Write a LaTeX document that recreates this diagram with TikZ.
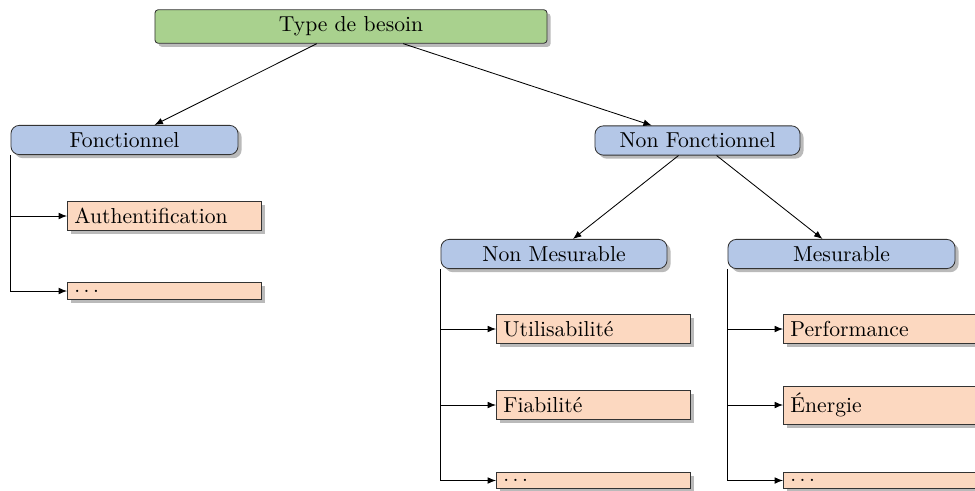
\documentclass[tikz,border=0pt]{standalone}
\usepackage{xcolor}
\usetikzlibrary{shadows,arrows.meta}

\definecolor{racine}{RGB}{169,209,142}
\definecolor{categorie}{RGB}{180,199,231}
\definecolor{feuille}{RGB}{252,216,192}

\tikzset{
  ombre/.style={drop shadow={shadow xshift=1.7pt,shadow yshift=-1.7pt,fill=black!27,opacity=1}},
  racinebox/.style={draw=black!80,fill=racine,rounded corners=1.5pt,ombre},
  catbox/.style={draw=black!80,fill=categorie,rounded corners=4pt,ombre},
  feuillebox/.style={draw=black!80,fill=feuille,anchor=west,text width=85.7pt,align=left,ombre},
  lien/.style={-{Latex[length=4pt,width=3.2pt]}},
}

\begin{document}
\begin{tikzpicture}[x=0.476pt,y=-0.476pt,font=\fontsize{10.3pt}{12pt}\selectfont]
\useasboundingbox (0,0) rectangle (975,490);
% racine
\node[racinebox,minimum width=186.6pt] (besoin) at (351,26.5) {Type de besoin};
% premier niveau
\node[catbox,minimum width=108.1pt] (fonc) at (124.5,140) {Fonctionnel};
\node[catbox,minimum width=97.6pt] (nonfonc) at (697.5,140.5) {Non Fonctionnel};
% second niveau
\node[catbox,minimum width=107.6pt] (nonmes) at (554,254) {Non Mesurable};
\node[catbox,minimum width=108.1pt] (mes) at (841.5,254) {Mesurable};
% feuilles
\node[feuillebox] (auth) at (67,216) {Authentification};
\node[feuillebox] (autresF) at (67,291) {$\ldots$};
\node[feuillebox] (util) at (496,329) {Utilisabilit\'e};
\node[feuillebox] (fiab) at (496,405) {Fiabilit\'e};
\node[feuillebox] (autresNM) at (496,480.5) {$\ldots$};
\node[feuillebox] (perf) at (783,329) {Performance};
\node[feuillebox] (ener) at (783,405) {\'Energie};
\node[feuillebox] (autresM) at (783,480.5) {$\ldots$};
% liens
\draw[lien] (besoin) -- (fonc);
\draw[lien] (besoin) -- (nonfonc);
\draw[lien] (nonfonc) -- (nonmes);
\draw[lien] (nonfonc) -- (mes);
\foreach \f in {auth,autresF}
  \draw[lien] (fonc.south west) |- (\f.west);
\foreach \f in {util,fiab,autresNM}
  \draw[lien] (nonmes.south west) |- (\f.west);
\foreach \f in {perf,ener,autresM}
  \draw[lien] (mes.south west) |- (\f.west);
\end{tikzpicture}
\end{document}
